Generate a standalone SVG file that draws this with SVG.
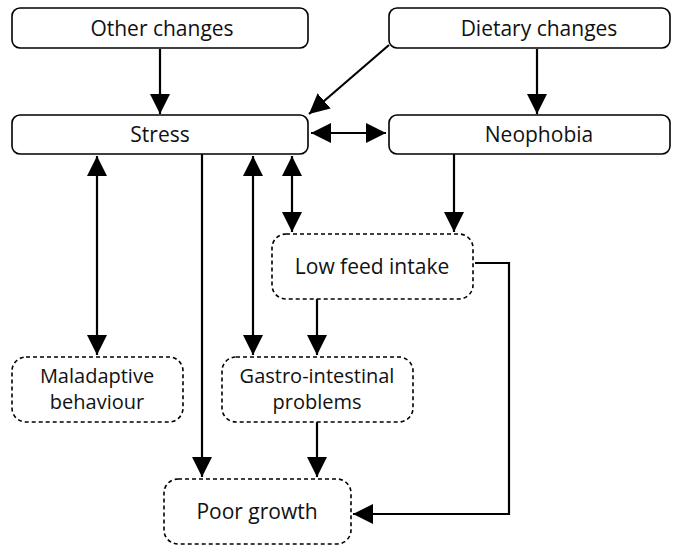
<svg xmlns="http://www.w3.org/2000/svg" width="677" height="546" viewBox="0 0 677 546">
<style>
.solid{fill:#fff;stroke:#000;stroke-width:1.6}
.dash{fill:#fff;stroke:#000;stroke-width:1.6;stroke-dasharray:4 3}
text{font-family:"Open Sans","Liberation Sans",sans-serif;font-size:21px;fill:#111;text-anchor:middle}
text.two{font-size:20px}
.c{fill:none;stroke:#000;stroke-width:2.2}
</style>
<defs>
<marker id="ah" viewBox="0 0 20 20" refX="20" refY="10" markerWidth="20" markerHeight="20" markerUnits="userSpaceOnUse" orient="auto-start-reverse">
<path d="M0,0 L20,10 L0,20 Z" fill="#000"/>
</marker>
</defs>
<rect width="677" height="546" fill="#fff"/>
<g id="other"><rect class="solid" x="12" y="8" width="296" height="40" rx="8"/><text x="162" y="36">Other changes</text></g>
<g id="dietary"><rect class="solid" x="389" y="8" width="281" height="40" rx="8"/><text x="539" y="36">Dietary changes</text></g>
<g id="stress"><rect class="solid" x="12" y="115" width="296" height="39" rx="8"/><text x="160" y="142">Stress</text></g>
<g id="neophobia"><rect class="solid" x="389" y="115" width="281" height="39" rx="8"/><text x="539" y="142">Neophobia</text></g>
<g id="lowfeed"><rect class="dash" x="272" y="234" width="201" height="65" rx="14"/><text x="372" y="274">Low feed intake</text></g>
<g id="maladaptive"><rect class="dash" x="12" y="357" width="171" height="65" rx="14"/><text class="two" x="97" y="383">Maladaptive</text><text class="two" x="97" y="409">behaviour</text></g>
<g id="gastro"><rect class="dash" x="222" y="357" width="191" height="65" rx="14"/><text class="two" x="317" y="383">Gastro-intestinal</text><text class="two" x="317" y="409">problems</text></g>
<g id="poorgrowth"><rect class="dash" x="164" y="479" width="187" height="65" rx="14"/><text x="257" y="519">Poor growth</text></g>
<g id="connectors">
<line class="c" x1="160" y1="49" x2="160" y2="114" marker-end="url(#ah)"/>
<line class="c" x1="537" y1="49" x2="537" y2="114" marker-end="url(#ah)"/>
<line class="c" x1="389" y1="45" x2="309" y2="114" marker-end="url(#ah)"/>
<line class="c" x1="311" y1="133" x2="386" y2="133" marker-start="url(#ah)" marker-end="url(#ah)"/>
<line class="c" x1="97" y1="156" x2="97" y2="355" marker-start="url(#ah)" marker-end="url(#ah)"/>
<line class="c" x1="202" y1="154" x2="202" y2="477" marker-end="url(#ah)"/>
<line class="c" x1="253" y1="156" x2="253" y2="355" marker-start="url(#ah)" marker-end="url(#ah)"/>
<line class="c" x1="292" y1="156" x2="292" y2="232" marker-start="url(#ah)" marker-end="url(#ah)"/>
<line class="c" x1="454" y1="154" x2="454" y2="232" marker-end="url(#ah)"/>
<line class="c" x1="317" y1="299" x2="317" y2="355" marker-end="url(#ah)"/>
<line class="c" x1="317" y1="422" x2="317" y2="477" marker-end="url(#ah)"/>
<polyline class="c" points="475,263 509,263 509,514 353,514" marker-end="url(#ah)"/>
</g>
</svg>
